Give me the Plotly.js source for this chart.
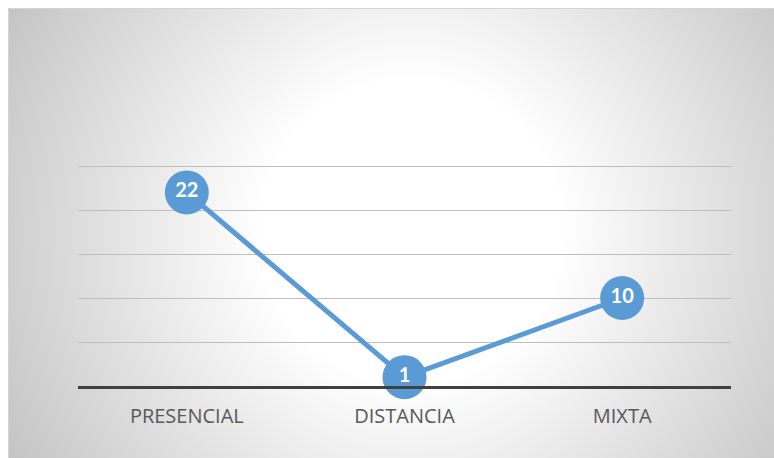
<!DOCTYPE html>
<html>
<head>
<meta charset="utf-8">
<script src="https://cdn.plot.ly/plotly-3.0.1.min.js"></script>
<style>
  html, body { margin: 0; padding: 0; background: #ffffff; }
  #bg {
    position: absolute; left: 8px; top: 8px; width: 766px; height: 450px;
    box-sizing: border-box;
    border-top: 1px solid #d4d4d4; border-left: 1px solid #d4d4d4;
    background: radial-gradient(circle farthest-corner at 402px 222px, #ffffff 0px, #ffffff 150px, #c4c4c4 100%);
  }
  #chart { position: absolute; left: 0; top: 0; width: 774px; height: 458px; }
</style>
</head>
<body>
<div id="bg"></div>
<div id="chart"></div>
<script>
// Modalidad de cursado y cantidad de respuestas
const categories = ['PRESENCIAL', 'DISTANCIA', 'MIXTA'];
const counts = [22, 1, 10];
const countLabels = counts.map(String);

const blue = '#5b9bd5';

const trace = {
  type: 'scatter',
  mode: 'lines+markers+text',
  x: categories,
  y: counts,
  text: countLabels,
  textposition: 'middle center',
  textfont: { family: 'Lato, "Open Sans", sans-serif', size: 20, color: '#ffffff', weight: 'bold' },
  line: { color: blue, width: 5 },
  marker: { color: blue, size: 44, line: { width: 0 } },
  cliponaxis: false,
  hoverinfo: 'skip'
};

const layout = {
  width: 774,
  height: 458,
  margin: { l: 78, r: 43, t: 164, b: 72 },
  paper_bgcolor: 'rgba(0,0,0,0)',
  plot_bgcolor: 'rgba(0,0,0,0)',
  showlegend: false,
  xaxis: {
    type: 'category',
    range: [-0.5, 2.5],
    showgrid: false,
    zeroline: false,
    showline: true,
    linecolor: '#404040',
    linewidth: 3,
    ticks: '',
    tickfont: { family: '"Open Sans", sans-serif', size: 20, color: '#595959' },
    ticklabelstandoff: 10,
    fixedrange: true
  },
  yaxis: {
    // headroom above 25 keeps the top gridline away from the plot edge
    range: [0, 25.227],
    tickvals: [5, 10, 15, 20, 25],
    showgrid: true,
    gridcolor: '#bfbfbf',
    gridwidth: 1,
    zeroline: false,
    showline: false,
    showticklabels: false,
    ticks: '',
    fixedrange: true
  }
};

Plotly.newPlot('chart', [trace], layout, { displayModeBar: false, staticPlot: true });
</script>
</body>
</html>
